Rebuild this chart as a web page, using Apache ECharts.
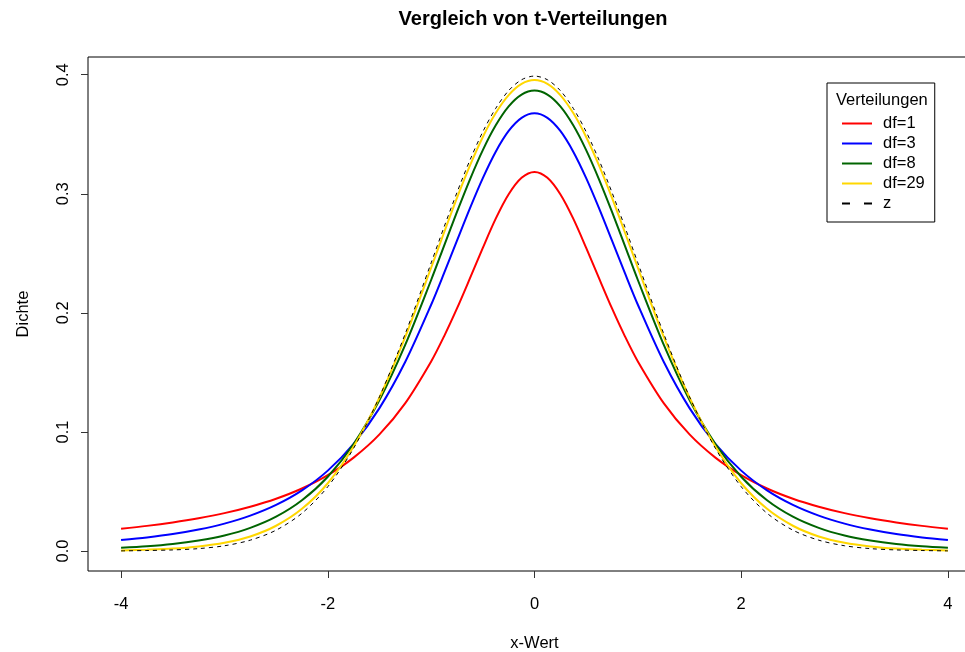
<!DOCTYPE html>
<html>
<head>
<meta charset="utf-8">
<script src="https://cdn.jsdelivr.net/npm/echarts@6/dist/echarts.min.js"></script>
<style>
html, body { margin: 0; padding: 0; background: #fff; }
#chart { width: 965px; height: 652px; }
</style>
</head>
<body>
<div id="chart"></div>
<script>
// x-Werte (-4 .. 4), in der Mitte feiner
const xValues = [-4, -3.75, -3.5, -3.25, -3, -2.75, -2.5, -2.25, -2, -1.75, -1.5, -1.25,
    -1, -0.875, -0.75, -0.625, -0.5, -0.375, -0.25, -0.125,
    0, 0.125, 0.25, 0.375, 0.5, 0.625, 0.75, 0.875, 1,
    1.25, 1.5, 1.75, 2, 2.25, 2.5, 2.75, 3, 3.25, 3.5, 3.75, 4];

const df1 = [0.0187, 0.0211, 0.0240, 0.0275, 0.0318, 0.0372, 0.0439, 0.0525, 0.0637, 0.0784, 0.0979, 0.1242,
    0.1592, 0.1803, 0.2037, 0.2289, 0.2546, 0.2791, 0.2996, 0.3134,
    0.3183, 0.3134, 0.2996, 0.2791, 0.2546, 0.2289, 0.2037, 0.1803, 0.1592,
    0.1242, 0.0979, 0.0784, 0.0637, 0.0525, 0.0439, 0.0372, 0.0318, 0.0275, 0.0240, 0.0211, 0.0187];
const df3 = [0.0092, 0.0114, 0.0142, 0.0180, 0.0230, 0.0297, 0.0387, 0.0509, 0.0675, 0.0900, 0.1200, 0.1589,
    0.2068, 0.2333, 0.2607, 0.2878, 0.3132, 0.3354, 0.3528, 0.3638,
    0.3676, 0.3638, 0.3528, 0.3354, 0.3132, 0.2878, 0.2607, 0.2333, 0.2068,
    0.1589, 0.1200, 0.0900, 0.0675, 0.0509, 0.0387, 0.0297, 0.0230, 0.0180, 0.0142, 0.0114, 0.0092];
const df8 = [0.0028, 0.0040, 0.0059, 0.0088, 0.0130, 0.0194, 0.0288, 0.0426, 0.0624, 0.0899, 0.1268, 0.1733,
    0.2276, 0.2563, 0.2848, 0.3120, 0.3367, 0.3575, 0.3734, 0.3833,
    0.3867, 0.3833, 0.3734, 0.3575, 0.3367, 0.3120, 0.2848, 0.2563, 0.2276,
    0.1733, 0.1268, 0.0899, 0.0624, 0.0426, 0.0288, 0.0194, 0.0130, 0.0088, 0.0059, 0.0040, 0.0028];
const df29 = [0.0005, 0.0011, 0.0020, 0.0038, 0.0069, 0.0122, 0.0212, 0.0354, 0.0569, 0.0877, 0.1289, 0.1800,
    0.2379, 0.2675, 0.2965, 0.3236, 0.3477, 0.3678, 0.3829, 0.3923,
    0.3955, 0.3923, 0.3829, 0.3678, 0.3477, 0.3236, 0.2965, 0.2675, 0.2379,
    0.1800, 0.1289, 0.0877, 0.0569, 0.0354, 0.0212, 0.0122, 0.0069, 0.0038, 0.0020, 0.0011, 0.0005];
const zValues = [0.0001, 0.0004, 0.0009, 0.0020, 0.0044, 0.0091, 0.0175, 0.0317, 0.0540, 0.0863, 0.1295, 0.1826,
    0.2420, 0.2721, 0.3011, 0.3282, 0.3521, 0.3718, 0.3867, 0.3958,
    0.3989, 0.3958, 0.3867, 0.3718, 0.3521, 0.3282, 0.3011, 0.2721, 0.2420,
    0.1826, 0.1295, 0.0863, 0.0540, 0.0317, 0.0175, 0.0091, 0.0044, 0.0020, 0.0009, 0.0004, 0.0001];

const xTicks = [-4, -2, 0, 2, 4];
const yTicks = [0, 0.1, 0.2, 0.3, 0.4];

const legendNames = ['df=1', 'df=3', 'df=8', 'df=29', 'z'];

const FONT = "'Liberation Sans', Arial, sans-serif";
const FS = 16.5;

const LINE_ICON = 'path://M0,0h30v2h-30z';
const DASH_ICON = 'path://M0,0h8v2h-8z M22,0h8v2h-8z';

function pairs(ys) {
    return xValues.map((x, i) => [x, ys[i]]);
}

function curve(name, ys, color, width, type) {
    return {
        name: name,
        type: 'line',
        data: pairs(ys),
        smooth: 0.3,
        symbol: 'none',
        silent: true,
        lineStyle: { color: color, width: width, type: type || 'solid' },
        itemStyle: { color: color }
    };
}

let chart = echarts.init(document.getElementById('chart'));
chart.setOption({
    animation: false,
    textStyle: { fontFamily: FONT },
    title: {
        text: 'Vergleich von t-Verteilungen',
        left: 528,
        top: 4,
        textAlign: 'center',
        textStyle: { fontFamily: FONT, fontSize: 20, fontWeight: 'bold', color: '#000' }
    },
    grid: {
        left: 88,
        top: 57,
        width: 893,
        bottom: 81,
        show: true,
        borderColor: '#000',
        borderWidth: 1,
        containLabel: false,
        outerBoundsMode: 'none'
    },
    legend: {
        data: legendNames.map(n => ({ name: n, icon: n === 'z' ? DASH_ICON : LINE_ICON })),
        orient: 'vertical',
        left: 827,
        top: 83,
        width: 110,
        padding: [32, 10, 10, 15],
        itemWidth: 30,
        itemHeight: 2,
        itemGap: 3,
        borderColor: '#000',
        borderWidth: 1,
        textStyle: { fontFamily: FONT, fontSize: FS, lineHeight: 17, color: '#000', padding: [0, 0, 0, 6] }
    },
    graphic: [{
        type: 'text',
        z: 100,
        left: 836,
        top: 92,
        style: { text: 'Verteilungen', font: FS + 'px ' + FONT, fill: '#000' }
    }],
    xAxis: {
        type: 'value',
        min: -4.32,
        max: 4.32,
        name: 'x-Wert',
        nameLocation: 'middle',
        nameGap: 64,
        nameTextStyle: { fontFamily: FONT, fontSize: FS, color: '#000' },
        splitLine: { show: false },
        axisLine: { show: false, onZero: false },
        axisTick: { show: true, length: 7, lineStyle: { color: '#333' }, customValues: xTicks },
        axisLabel: { fontFamily: FONT, fontSize: FS, color: '#000', margin: 25, customValues: xTicks }
    },
    yAxis: {
        type: 'value',
        min: -0.0168,
        max: 0.4149,
        name: 'Dichte',
        nameLocation: 'middle',
        nameGap: 56,
        nameRotate: 90,
        nameTextStyle: { fontFamily: FONT, fontSize: FS, color: '#000' },
        splitLine: { show: false },
        axisLine: { show: false, onZero: false },
        axisTick: { show: true, length: 7, lineStyle: { color: '#333' }, customValues: yTicks },
        axisLabel: {
            fontFamily: FONT, fontSize: FS, color: '#000', rotate: 90, margin: 16,
            customValues: yTicks,
            formatter: v => v.toFixed(1)
        }
    },
    series: [
        curve('df=1', df1, '#ff0000', 2),
        curve('df=3', df3, '#0000ff', 2),
        curve('df=8', df8, '#006400', 2),
        curve('df=29', df29, '#ffd700', 2),
        curve('z', zValues, '#000000', 1, [4, 4])
    ]
});
</script>
</body>
</html>
